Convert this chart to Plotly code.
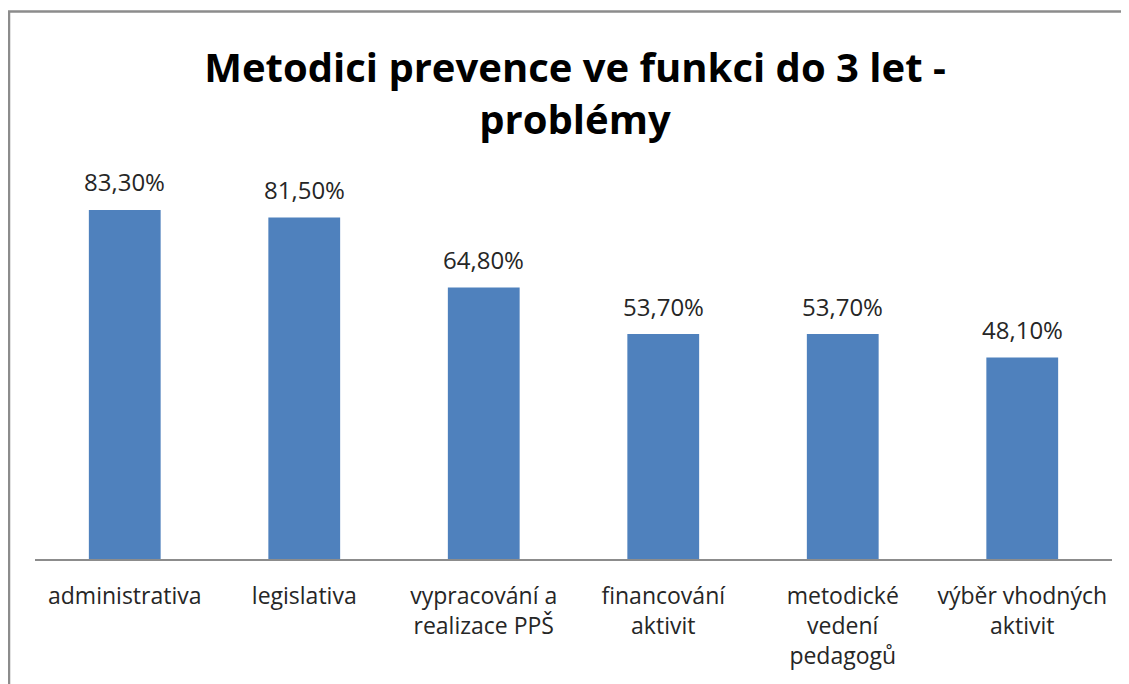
import plotly.graph_objects as go

categories = ["administrativa", "legislativa", "vypracování a<br>realizace PPŠ",
              "financování<br>aktivit", "metodické<br>vedení<br>pedagogů",
              "výběr vhodných<br>aktivit"]
values = [83.3, 81.5, 64.8, 53.7, 53.7, 48.1]
labels = ["83,30%", "81,50%", "64,80%", "53,70%", "53,70%", "48,10%"]
title_text = "Metodici prevence ve funkci do 3 let -<br>problémy"

# the page body adds an 8px offset; the figure is sized to fit the window exactly
W, H = 1121, 676
L, R, T, B = 27, 17, 132, 125
pw, ph = W - L - R, H - T - B

def px(x):
    return (x - L) / pw

def py(y):
    return (H - B - y) / ph

fig = go.Figure(go.Bar(
    x=categories, y=values,
    marker=dict(color="#4F81BD", line=dict(width=0)),
    hoverinfo="x+y",
))

for c, v, t in zip(categories, values, labels):
    fig.add_annotation(x=c, y=v, text=t, showarrow=False, yanchor="middle",
                       yshift=28, font=dict(family="Open Sans", size=24, color="#262626"))

fig.update_layout(
    width=W, height=H,
    margin=dict(l=L, r=R, t=T, b=B),
    paper_bgcolor="white", plot_bgcolor="white",
    bargap=0.6,
    showlegend=False,
    font=dict(family="Open Sans", color="#262626"),
    title=dict(text=title_text, x=px(567), xanchor="center", xref="paper",
               y=(H - 74) / H, yanchor="middle",
               font=dict(family="Open Sans", size=40, color="black", weight="bold")),
    xaxis=dict(showline=True, linecolor="#8C8C8C", linewidth=1.5,
               ticks="", tickfont=dict(family="Open Sans", size=23, color="#262626"),
               ticklabelstandoff=16, showgrid=False),
    yaxis=dict(range=[0, 100], visible=False, showgrid=False),
    shapes=[dict(type="rect", xref="paper", yref="paper",
                 x0=px(1), x1=px(1140), y0=py(3.5), y1=py(700),
                 line=dict(color="#8C8C8C", width=2.5), layer="above")],
)

fig.write_html("out.html")
